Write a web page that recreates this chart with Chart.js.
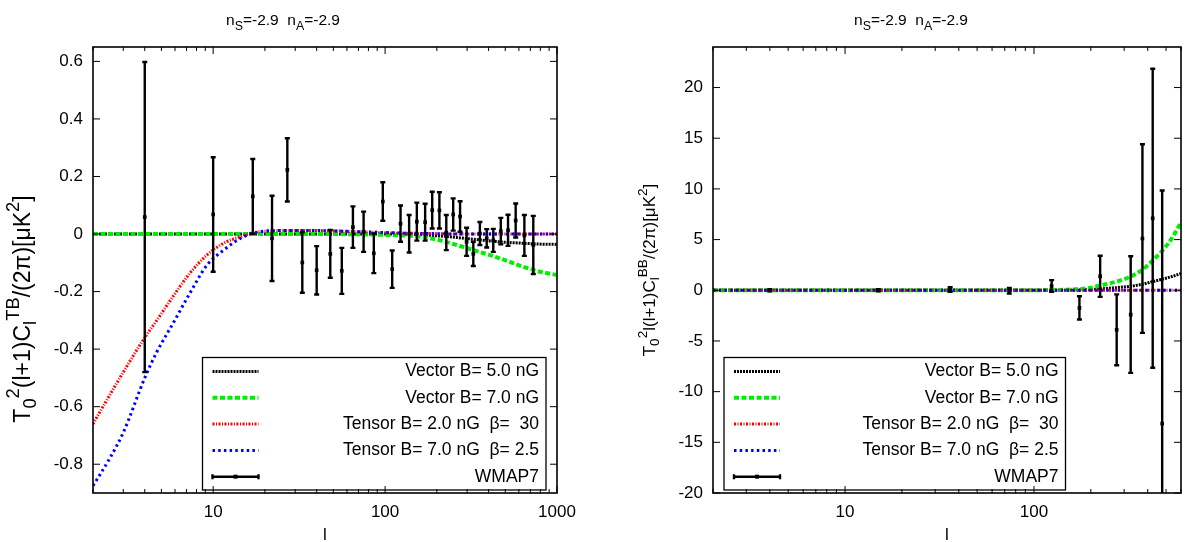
<!DOCTYPE html>
<html>
<head>
<meta charset="utf-8">
<script src="https://cdn.jsdelivr.net/npm/chart.js@4/dist/chart.umd.min.js"></script>
<style>
  html, body { margin: 0; padding: 0; background: #fff; }
  #cadre { position: relative; width: 1185px; height: 542px; }
  .panneau { position: absolute; top: 0; height: 542px; }
  #panneau-tb { left: 0; width: 592px; }
  #panneau-bb { left: 592px; width: 593px; }
</style>
</head>
<body>
<div id="cadre">
  <div class="panneau" id="panneau-tb"><canvas id="graphique-tb"></canvas></div>
  <div class="panneau" id="panneau-bb"><canvas id="graphique-bb"></canvas></div>
</div>
<script>
/** Libellés de la légende */
const labels = ['Vector B= 5.0 nG', 'Vector B= 7.0 nG', 'Tensor B= 2.0 nG  β=  30', 'Tensor B= 7.0 nG  β= 2.5', 'WMAP7'];

/** Panneau gauche : spectre TB */
const lCourbeTB = [2, 2.5, 3, 4, 4.7, 5.9, 7.3, 9.2, 11.5, 14.4, 17, 25, 40, 70, 100, 130, 167, 209, 261, 326, 407, 510, 637, 796, 1000];
const vecteur5TB = [0, 0, 0, 0, 0, 0, 0, 0, 0, 0, 0, 0, 0, 0, 0, -0.001, -0.003, -0.007, -0.012, -0.018, -0.024, -0.029, -0.032, -0.035, -0.036];
const vecteur7TB = [0, 0, 0, 0, 0, 0, 0, 0, 0, 0, 0, 0, 0, -0.001, -0.003, -0.005, -0.011, -0.022, -0.038, -0.056, -0.073, -0.093, -0.114, -0.131, -0.142];
const tenseur2TB = [-0.66, -0.56, -0.48, -0.36, -0.30, -0.213, -0.137, -0.073, -0.032, -0.009, 0.004, 0.012, 0.012, 0.008, 0.005, 0.003, 0.002, 0.001, 0, 0, 0, 0, 0, 0, 0];
const tenseur7TB = [-0.875, -0.78, -0.69, -0.50, -0.41, -0.306, -0.207, -0.108, -0.056, -0.015, 0.003, 0.012, 0.012, 0.008, 0.005, 0.003, 0.002, 0.001, 0, 0, 0, 0, 0, 0, 0];

const lWmapTB = [4, 10, 17, 22, 27, 33, 40, 48, 56, 65, 75, 86, 97, 110, 123, 138, 153, 171, 188, 207, 227, 249, 273, 298, 326, 356, 390, 426, 471, 519, 575, 646, 728];
const wmapTB = [0.059, 0.068, 0.131, -0.015, 0.223, -0.099, -0.126, -0.069, -0.128, 0.024, 0.008, -0.067, 0.113, -0.122, 0.036, 0.001, 0.043, 0.041, 0.083, 0.082, 0.005, 0.068, 0.061, -0.027, -0.069, 0.002, -0.015, -0.022, 0.010, 0.013, 0.047, -0.005, -0.038];
const erreurTB = [0.539, 0.199, 0.130, 0.148, 0.110, 0.105, 0.084, 0.083, 0.080, 0.072, 0.070, 0.069, 0.067, 0.065, 0.063, 0.065, 0.066, 0.064, 0.064, 0.063, 0.061, 0.056, 0.053, 0.049, 0.042, 0.040, 0.032, 0.040, 0.046, 0.054, 0.059, 0.071, 0.101];

/** Panneau droit : spectre BB */
const lCourbeBB = [2, 50, 100, 150, 175, 200, 224, 274, 325, 376, 425, 479, 535, 600];
const vecteur5BB = [0, 0, 0, 0.01, 0.03, 0.07, 0.14, 0.26, 0.40, 0.60, 0.85, 1.10, 1.35, 1.65];
const vecteur7BB = [0, 0, 0.01, 0.06, 0.13, 0.25, 0.47, 0.86, 1.36, 2.04, 2.93, 3.92, 5.10, 6.70];
const tenseur2BB = [0, 0, 0, 0, 0, 0, 0, 0, 0, 0, 0, 0, 0, 0];
const tenseur7BB = [0, 0, 0, 0, 0, 0, 0, 0, 0, 0, 0, 0, 0, 0];

const lWmapBB = [4, 15, 36, 74, 124, 174, 224, 274, 325, 375, 425, 477];
const wmapBB = [0, 0, 0.07, -0.05, 0.42, -1.74, 1.38, -3.9, -2.4, 5.1, 7.1, -13.15];
const erreurBB = [0.1, 0.1, 0.23, 0.28, 0.58, 1.15, 2.03, 3.5, 5.75, 9.3, 14.75, 23.0];

/** Graduations */
const ticksX = [10, 100, 1000];
const ticksMineursX = [2, 3, 4, 5, 6, 7, 8, 9, 20, 30, 40, 50, 60, 70, 80, 90, 200, 300, 400, 500, 600, 700, 800, 900];
const ticksYTB = [-0.8, -0.6, -0.4, -0.2, 0, 0.2, 0.4, 0.6];
const ticksYBB = [-20, -15, -10, -5, 0, 5, 10, 15, 20];

const police = '"Liberation Sans", Arial, Helvetica, sans-serif';

/** Texte avec indices et exposants, segment par segment */
const texteRiche = function texteRiche(ctx, segments, x, y, taille) {
  let largeur = 0;
  segments.forEach(s => {
    ctx.font = `${s[1] ? taille * 0.8 : taille}px ${police}`;
    largeur += ctx.measureText(s[0]).width;
  });
  let cx = x - largeur / 2;
  ctx.textAlign = 'left';
  segments.forEach(s => {
    ctx.font = `${s[1] ? taille * 0.8 : taille}px ${police}`;
    let dy = 0;
    if (s[1] === 'b') { dy = taille * 0.3; }
    if (s[1] === 'h') { dy = -taille * 0.42; }
    ctx.fillText(s[0], cx, y + dy);
    cx += ctx.measureText(s[0]).width;
  });
};

/** Barres d'erreur WMAP7 */
const barresErreur = {
  id: 'barresErreur',
  afterDatasetsDraw(chart) {
    const { ctx, chartArea: a, scales: { x, y } } = chart;
    chart.data.datasets.forEach(ds => {
      if (!ds.erreurs) { return; }
      ctx.save();
      ctx.beginPath();
      ctx.rect(a.left, a.top, a.right - a.left, a.bottom - a.top);
      ctx.clip();
      ctx.strokeStyle = '#000';
      ctx.lineWidth = 2.4;
      ctx.beginPath();
      ds.data.forEach((p, j) => {
        const px = x.getPixelForValue(p.x);
        const bas = y.getPixelForValue(p.y - ds.erreurs[j]);
        const haut = y.getPixelForValue(p.y + ds.erreurs[j]);
        ctx.moveTo(px, bas); ctx.lineTo(px, haut);
        ctx.moveTo(px - 2.5, bas); ctx.lineTo(px + 2.5, bas);
        ctx.moveTo(px - 2.5, haut); ctx.lineTo(px + 2.5, haut);
      });
      ctx.stroke();
      ctx.restore();
    });
  }
};

/** Cadre et graduations intérieures, façon gnuplot */
const cadre = {
  id: 'cadre',
  afterDatasetsDraw(chart) {
    const { ctx, chartArea: a, scales: { x, y } } = chart;
    ctx.save();
    ctx.strokeStyle = '#000';
    ctx.lineWidth = 1;
    ctx.beginPath();
    const graduationX = (v, long) => {
      const px = x.getPixelForValue(v);
      if (px < a.left - 0.5 || px > a.right + 0.5) { return; }
      ctx.moveTo(px, a.bottom); ctx.lineTo(px, a.bottom - long);
      ctx.moveTo(px, a.top); ctx.lineTo(px, a.top + long);
    };
    ticksX.forEach(v => graduationX(v, 7));
    ticksMineursX.forEach(v => graduationX(v, 4));
    y.ticks.forEach(t => {
      const py = y.getPixelForValue(t.value);
      ctx.moveTo(a.left, py); ctx.lineTo(a.left + 7, py);
      ctx.moveTo(a.right, py); ctx.lineTo(a.right - 7, py);
    });
    ctx.stroke();
    ctx.lineWidth = 1.6;
    ctx.strokeRect(a.left, a.top, a.right - a.left, a.bottom - a.top);
    ctx.restore();
  }
};

/** Légende encadrée, texte aligné à droite */
const legende = {
  id: 'legende',
  afterDraw(chart, args, opts) {
    const ctx = chart.ctx;
    const [x0, y0, x1, y1] = opts.boite;
    ctx.save();
    ctx.strokeStyle = '#000';
    ctx.lineWidth = 1.3;
    ctx.strokeRect(x0, y0, x1 - x0, y1 - y0);
    chart.data.datasets.forEach((ds, i) => {
      const yy = y0 + 14 + i * 26.3;
      const xa = x0 + 10;
      const xb = x0 + 56;
      ctx.save();
      ctx.strokeStyle = ds.borderColor;
      ctx.lineWidth = ds.erreurs ? 2.4 : ds.borderWidth;
      ctx.setLineDash(ds.erreurs ? [] : ds.borderDash);
      ctx.beginPath();
      ctx.moveTo(xa, yy); ctx.lineTo(xb, yy);
      if (ds.erreurs) {
        ctx.moveTo(xa, yy - 2.5); ctx.lineTo(xa, yy + 2.5);
        ctx.moveTo(xb, yy - 2.5); ctx.lineTo(xb, yy + 2.5);
      }
      ctx.stroke();
      if (ds.erreurs) {
        ctx.fillStyle = '#000';
        ctx.fillRect((xa + xb) / 2 - 2, yy - 2, 4, 4);
      }
      ctx.restore();
      ctx.fillStyle = '#000';
      ctx.font = `17.5px ${police}`;
      ctx.textAlign = 'right';
      ctx.textBaseline = 'middle';
      ctx.fillText(ds.label, x1 - 7, yy);
    });
    ctx.restore();
  }
};

/** Titre, titre de l'axe y (tourné) et de l'axe x */
const textes = {
  id: 'textes',
  afterDraw(chart, args, opts) {
    const { ctx, chartArea: a } = chart;
    ctx.save();
    ctx.fillStyle = '#000';
    ctx.textBaseline = 'alphabetic';
    texteRiche(ctx, [['n'], ['S', 'b'], ['=-2.9  n'], ['A', 'b'], ['=-2.9']], opts.titreX, 25, 15.5);
    ctx.font = `17px ${police}`;
    ctx.textAlign = 'center';
    ctx.fillText('l', (a.left + a.right) / 2, 540);
    ctx.translate(opts.axeY[0], opts.axeY[1]);
    ctx.rotate(-Math.PI / 2);
    ctx.textBaseline = 'middle';
    texteRiche(ctx, opts.segmentsY, 0, 0, opts.tailleY);
    ctx.restore();
  }
};

/**
 * Dessine un panneau : courbes théoriques + points WMAP7.
 */
const dessineMoiUnPanneau = function dessineMoiUnPanneau(id, lCourbe, courbes, lWmap, wmap, erreur, reglages) {
  const styles = [
    { borderColor: '#000000', borderWidth: 3, borderDash: [2, 1] },
    { borderColor: '#00ee00', borderWidth: 4, borderDash: [5, 2.5] },
    { borderColor: '#ff0000', borderWidth: 3, borderDash: [2, 1.5, 1, 1.5] },
    { borderColor: '#0000ff', borderWidth: 3, borderDash: [2.5, 3.2] }
  ];
  const datasets = courbes.map((c, i) => ({
    label: labels[i],
    data: lCourbe.map((l, j) => ({ x: l, y: c[j] })),
    ...styles[i],
    pointRadius: 0,
    cubicInterpolationMode: 'monotone',
    fill: false,
    order: 5 - i
  }));
  datasets.push({
    label: labels[4],
    data: lWmap.map((l, j) => ({ x: l, y: wmap[j] })),
    erreurs: erreur,
    borderColor: '#000000',
    backgroundColor: '#000000',
    showLine: false,
    pointStyle: 'rect',
    pointRadius: 2.6,
    pointBorderWidth: 0,
    order: 0
  });

  const ctx = document.getElementById(id).getContext('2d');
  return new Chart(ctx, {
    type: 'line',
    data: { datasets },
    options: {
      responsive: true,
      maintainAspectRatio: false,
      animation: false,
      layout: { padding: { left: 0, top: 47, right: reglages.droite, bottom: 0 } },
      plugins: {
        legend: { display: false },
        tooltip: { enabled: false },
        legende: { boite: reglages.boite },
        textes: { titreX: reglages.titreX, axeY: reglages.axeY, segmentsY: reglages.segmentsY, tailleY: reglages.tailleY }
      },
      scales: {
        x: {
          type: 'logarithmic',
          min: 2,
          max: reglages.xMax,
          grid: { display: false, drawTicks: false },
          border: { display: false },
          afterBuildTicks: scale => { scale.ticks = ticksX.filter(v => v <= reglages.xMax).map(v => ({ value: v })); },
          afterFit: scale => { scale.height = 49; },
          ticks: { autoSkip: false, maxRotation: 0, padding: 9, color: '#000', font: { family: police, size: 17 }, callback: v => String(v) }
        },
        y: {
          min: reglages.yMin,
          max: reglages.yMax,
          grid: { display: false, drawTicks: false },
          border: { display: false },
          afterBuildTicks: scale => { scale.ticks = reglages.ticksY.map(v => ({ value: v })); },
          afterFit: scale => { scale.width = reglages.largeurY; },
          ticks: { padding: 10, color: '#000', font: { family: police, size: 17 }, callback: v => String(v) }
        }
      }
    },
    plugins: [barresErreur, cadre, legende, textes]
  });
};

dessineMoiUnPanneau('graphique-tb', lCourbeTB, [vecteur5TB, vecteur7TB, tenseur2TB, tenseur7TB], lWmapTB, wmapTB, erreurTB, {
  droite: 35, largeurY: 93, xMax: 1000, yMin: -0.9, yMax: 0.65, ticksY: ticksYTB,
  boite: [202.5, 357.5, 546, 490], titreX: 283, axeY: [24, 309], tailleY: 23,
  segmentsY: [['T'], ['0', 'b'], ['2', 'h'], ['(l+1)C'], ['l', 'b'], ['TB', 'h'], ['/(2π)[μK'], ['2', 'h'], [']']]
});

dessineMoiUnPanneau('graphique-bb', lCourbeBB, [vecteur5BB, vecteur7BB, tenseur2BB, tenseur7BB], lWmapBB, wmapBB, erreurBB, {
  droite: 1, largeurY: 121, xMax: 600, yMin: -20, yMax: 24, ticksY: ticksYBB,
  boite: [132, 357.5, 473.5, 490], titreX: 319, axeY: [58, 270], tailleY: 17,
  segmentsY: [['T'], ['0', 'b'], ['2', 'h'], ['l(l+1)C'], ['l', 'b'], ['BB', 'h'], ['/(2π)[μK'], ['2', 'h'], [']']]
});
</script>
</body>
</html>
